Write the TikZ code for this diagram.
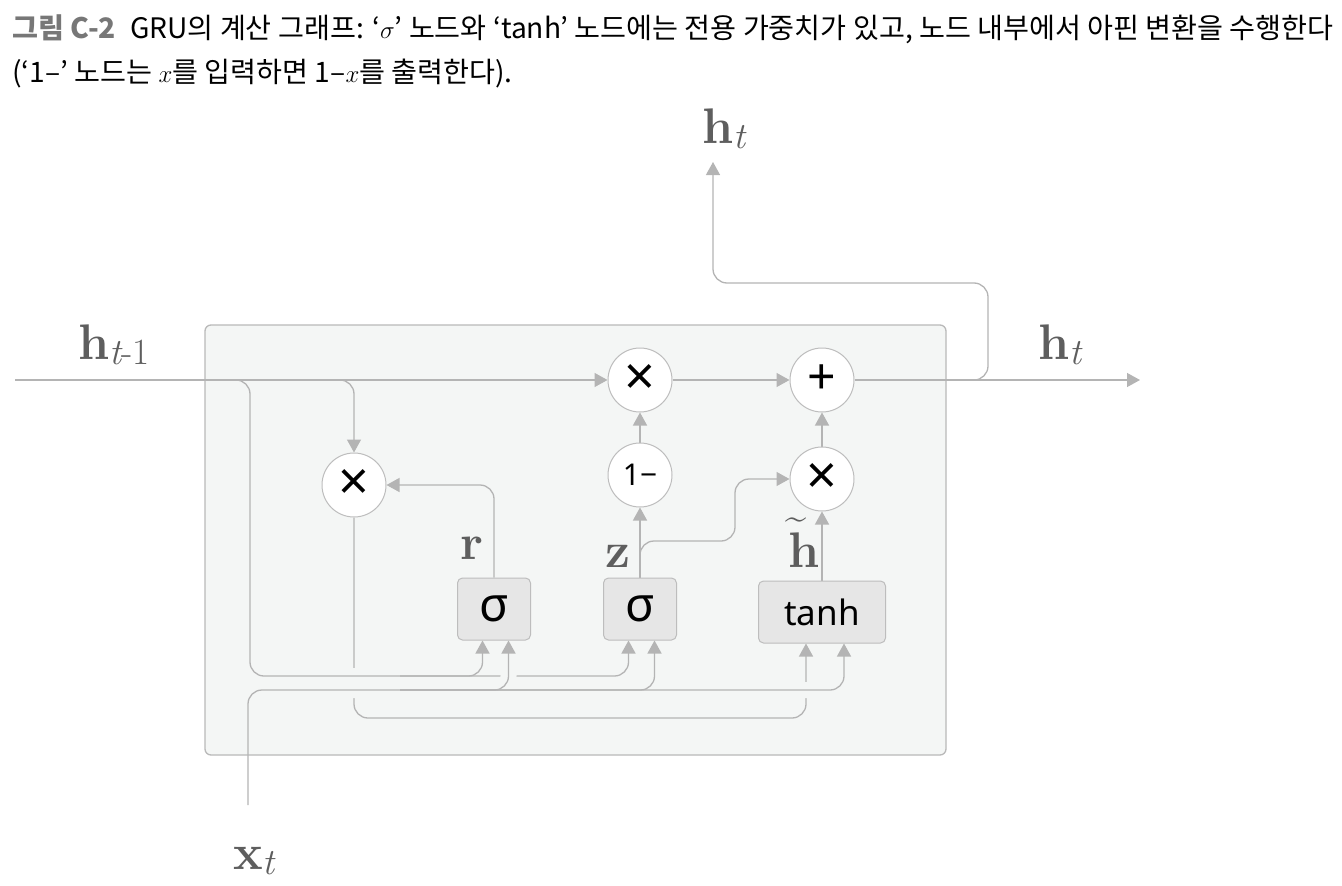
\documentclass[tikz,border=0pt]{standalone}
\usepackage{fontspec}
\newfontfamily\krfont{Noto Sans CJK KR}
\newfontfamily\boxfont{Noto Sans}
\usetikzlibrary{arrows.meta}
\definecolor{wiregray}{HTML}{B4B4B4}
\definecolor{rimgray}{HTML}{BDBDBD}
\definecolor{gatefill}{HTML}{E6E6E6}
\definecolor{cellfill}{HTML}{F4F6F5}
\definecolor{cellrim}{HTML}{B9B9B9}
\definecolor{lblgray}{HTML}{5E5E5E}
\definecolor{capgray}{HTML}{777777}
\pgfdeclarelayer{back}
\pgfdeclarelayer{wires}
\pgfsetlayers{back,wires,main}
\newcommand{\vlab}[2]{\textbf{#1}\raisebox{-5pt}{\fontsize{37}{37}\selectfont\itshape #2}}
\tikzset{
  op/.style = {circle, draw=rimgray, fill=white, line width=1pt,
    minimum size=64pt, inner sep=0pt, font=\boxfont\fontsize{30}{30}\selectfont},
  gate/.style = {rectangle, rounded corners=5pt, draw=rimgray, fill=gatefill,
    line width=1pt, minimum height=62pt, inner sep=0pt,
    font=\boxfont\fontsize{35}{35}\selectfont},
  wire/.style = {draw=wiregray, line width=1.3pt, rounded corners=14pt},
  halo/.style = {draw=cellfill, line width=16pt, rounded corners=14pt},
  lbl/.style = {text=lblgray, inner sep=0pt, anchor=base west,
    font=\fontsize{50}{50}\selectfont}
}

\begin{document}
\begin{tikzpicture}[x=1pt, y=-1pt, >={Triangle[length=13pt,width=14pt]}]
\useasboundingbox (0,0) rectangle (1342,886);

% caption
\node[anchor=base west, inner sep=0pt, font=\krfont\fontsize{28.2}{32}\selectfont] (cap1) at (12,38)
  {\textcolor{capgray}{\bfseries 그림 C-2}\hspace{14pt}GRU의 계산 그래프: ‘$\sigma$’ 노드와 ‘tanh’ 노드에는 전용 가중치가 있고, 노드 내부에서 아핀 변환을 수행한다};
\node[anchor=base west, inner sep=0pt, font=\krfont\fontsize{28.2}{32}\selectfont] (cap2) at (12,82)
  {(‘1–’ 노드는 $x$를 입력하면 1–$x$를 출력한다).};

% cell
\begin{pgfonlayer}{back}
\draw[fill=cellfill, draw=cellrim, line width=1.3pt, rounded corners=6pt] (205,325) rectangle (946,755);
\end{pgfonlayer}

% nodes
\node[op] (mulr) at (354,485) {{\fontsize{54}{54}\selectfont ×}};
\node[op] (mul1) at (640,380) {{\fontsize{54}{54}\selectfont ×}};
\node[op] (plus) at (822,380) {{\fontsize{50}{50}\selectfont +}};
\node[op] (oneminus) at (640,475) {1−};
\node[op] (mul2) at (822,479) {{\fontsize{54}{54}\selectfont ×}};
\node[gate, minimum width=73pt] (sigr) at (494,609) {{\fontsize{48}{48}\selectfont σ}};
\node[gate, minimum width=73pt] (sigz) at (640,609) {{\fontsize{48}{48}\selectfont σ}};
\node[gate, minimum width=127pt] (tanh) at (822,612) {tanh};

% labels
\node[lbl] (hprev) at (78,359) {\vlab{h}{t\upshape -1}};
\node[lbl] (hout) at (1038,359) {\vlab{h}{t}};
\node[lbl] (htop) at (702,143) {\vlab{h}{t}};
\node[lbl] (xin) at (233,869) {\vlab{x}{t}};
\node[lbl] (rlbl) at (460,559) {\textbf{r}};
\node[lbl] (zlbl) at (605,567) {\textbf{z}};
\node[lbl] (hhat) at (788,567)
  {\textbf{h}\llap{\raisebox{38pt}{\fontsize{38}{38}\selectfont\bfseries\textasciitilde}\hspace{13pt}}};

% wire ends
\coordinate (hstart) at (15,380);
\coordinate (hend) at (1140,380);
\coordinate (tap1) at (218,380);
\coordinate (tap2) at (323,380);
\coordinate (tap3) at (972,380);
\coordinate (loop) at (988,283);
\coordinate (hup) at (713,162);
\coordinate (hdn) at (250,676);
\coordinate (hsplit) at (400,676);
\coordinate (xfoot) at (248,805);
\coordinate (xentry) at (248,750);
\coordinate (xsplit) at (400,690);
\coordinate (rbase) at (806,718);
\coordinate (zfork) at (640,560);
\coordinate (zstep) at (735,541);
\coordinate (rin1) at ([xshift=-11.5]sigr.south);
\coordinate (rin2) at ([xshift=14.5]sigr.south);
\coordinate (zin1) at ([xshift=-11.5]sigz.south);
\coordinate (zin2) at ([xshift=14.5]sigz.south);
\coordinate (tin1) at ([xshift=-16]tanh.south);
\coordinate (tin2) at ([xshift=22]tanh.south);

\begin{pgfonlayer}{wires}
% r * h_{t-1} goes under the other inputs
\draw[wire, ->] (mulr) |- (rbase) -- (tin1);
% h_{t-1} into the gates
\path[halo] (tap1) -| (hdn) -| (rin1) (hsplit) -| (zin1);
\draw[wire, ->] (tap1) -| (hdn) -| (rin1);
\draw[wire, ->] (hsplit) -| (zin1);
% x_t into the gates
\path[halo] (xentry) |- (xsplit) -| (rin2) (xsplit) -| (zin2) (xsplit) -| (tin2);
\draw[wire, ->] (xfoot) |- (xsplit) -| (rin2);
\draw[wire, ->] (xsplit) -| (zin2);
\draw[wire, ->] (xsplit) -| (tin2);
% main line
\draw[wire, ->] (hstart) -- (mul1);
\draw[wire, ->] (tap2) -| (mulr);
\draw[wire, ->] (mul1) -- (plus);
\draw[wire, ->] (plus) -- (hend);
\draw[wire, ->] (tap3) -| (loop) -| (hup);
% gates
\draw[wire, ->] (sigr) |- (mulr);
\draw[wire, ->] (sigz) -- (oneminus);
\draw[wire, ->] (zfork) |- (zstep) |- (mul2);
\draw[wire, ->] (oneminus) -- (mul1);
\draw[wire, ->] (tanh) -- (mul2);
\draw[wire, ->] (mul2) -- (plus);
\end{pgfonlayer}
\end{tikzpicture}
\end{document}
